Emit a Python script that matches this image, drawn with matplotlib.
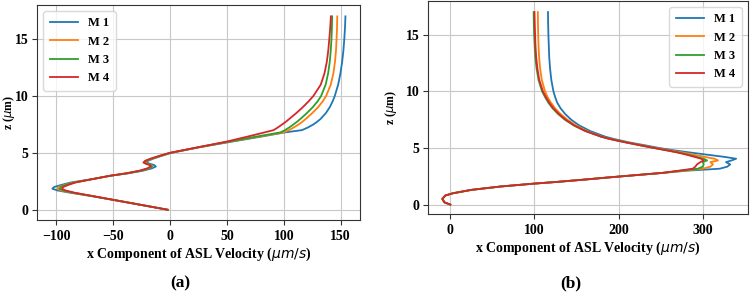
import matplotlib
matplotlib.use("Agg")
import matplotlib.pyplot as plt

# ---------------- data: panel (a) ----------------
z_a = [0, 0.4, 0.8, 1.2, 1.5, 1.7, 1.85, 2.0, 2.2, 2.4, 2.7, 3.0, 3.2, 3.43,
       3.64, 3.8, 3.93, 4.05, 4.15, 4.3, 4.5, 4.75, 5.0, 5.5, 6.0, 6.5, 6.8,
       7.0, 7.25, 7.5, 7.75, 8.0, 8.5, 9, 9.5, 10, 11, 12, 13, 14, 15, 16, 17]
a_m1 = [-2, -24, -46, -69, -88, -99, -103.5, -102, -95, -87, -68, -52, -37, -24,
        -16, -12.5, -14, -18, -20.5, -19.5, -14.6, -7, 1, 26, 55, 84, 101,
        116, 121.5, 126, 129.5, 132.5, 137, 140.3, 142.8, 144.8, 147.8, 149.8,
        151.3, 152.4, 153.2, 153.8, 154.2]
a_m2 = [-2, -24, -46, -68, -86, -96, -99, -98, -92, -85, -68, -52, -38, -26,
        -18.5, -15.5, -16.5, -20, -22, -21, -15.5, -8, 0.5, 25.5, 53, 82, 100,
        104.5, 109, 113, 116.5, 119.5, 125, 130, 134, 137.2, 141.3, 143.6,
        145, 145.9, 146.4, 146.8, 147]
a_m3 = [-2, -24, -46, -68, -85, -94, -97, -96, -91, -84, -68, -52, -38, -26,
        -19, -16, -17, -20.5, -22.5, -21.5, -16, -8.5, 0, 25, 52, 80, 97,
        101, 105, 108.5, 111.8, 114.8, 120.3, 125.3, 129.5, 132.8, 136.8, 139,
        140.4, 141.3, 141.9, 142.3, 142.5]
a_m4 = [-2, -24, -46, -68, -84, -92, -95, -94, -89, -83, -68, -52, -39, -27,
        -20, -17, -18, -21.5, -23.5, -22, -17, -9, -0.5, 25, 50, 71, 83,
        91, 95, 98.5, 102, 105, 111, 116.5, 121.5, 126, 132.5, 135.8,
        137.8, 139.1, 140, 140.8, 141.4]

# ---------------- data: panel (b) ----------------
z_b = [0, 0.2, 0.5, 0.8, 1.0, 1.3, 1.6, 1.85, 2.0, 2.2, 2.4, 2.6, 2.8, 3.0,
       3.17, 3.35, 3.55, 3.75, 3.9, 4.05, 4.2, 4.4, 4.6, 4.8, 5.0, 5.2, 5.5,
       5.8, 6.0, 6.5, 7.0, 7.5, 8, 8.5, 9, 9.5, 10, 11, 12, 13, 14, 15, 16, 17]
b_m1 = [0, -7, -9.5, -6, 3, 25, 60, 99, 126, 158, 188, 220, 252, 282,
        320, 329, 332.5, 327.5, 334, 339.5, 327, 306, 285, 265, 248, 234, 212,
        194, 184, 166, 153, 143.5, 136.5, 131, 127, 124.5, 122.5, 120, 118.5,
        117.5, 117, 116.5, 116.2, 116]
b_m2 = [0, -7, -9.5, -6, 3, 25, 60, 99, 126, 158, 188, 220, 252, 278,
        300, 309, 312, 309, 318, 314, 303, 290, 276, 260, 244, 230, 209,
        190, 180, 162, 149, 139, 131, 124.5, 119.5, 115.5, 112.5, 108.7, 106.7,
        105.5, 104.8, 104.4, 104.1, 104]
b_m3 = [0, -7, -9.5, -6, 3, 25, 60, 99, 126, 158, 188, 220, 252, 274,
        294, 300, 301, 300, 305, 301, 293, 283, 271, 257, 242, 228, 208,
        189, 179, 160, 146.5, 136, 128, 121.5, 116.5, 112.5, 109, 104.8, 102.5,
        101, 100.2, 99.6, 99.2, 99]
b_m4 = [0, -7, -9.5, -6, 3, 25, 60, 99, 126, 158, 188, 220, 252, 272,
        288, 291, 293, 297, 301, 298, 291, 281, 270, 256, 242, 228, 208,
        189, 179, 160.5, 147, 137, 129, 122.5, 117.5, 113.5, 110, 105.7, 103.5,
        102, 101.2, 100.7, 100.3, 100]

labels = ["M 1", "M 2", "M 3", "M 4"]
colors = ["#1f77b4", "#ff7f0e", "#2ca02c", "#d62728"]
a_ticks = [-100, -50, 0, 50, 100, 150]
b_ticks = [0, 100, 200, 300]
z_ticks = [0, 5, 10, 15]

plt.rcParams["font.family"] = ["Liberation Serif", "DejaVu Serif"]
plt.rcParams["mathtext.fontset"] = "dejavusans"
plt.rcParams["axes.edgecolor"] = "#333333"

fig = plt.figure(figsize=(7.51, 2.93), dpi=100)
ax1 = fig.add_axes([37 / 751, 1 - 220 / 293, (360 - 37) / 751, 215 / 293])
ax2 = fig.add_axes([428 / 751, 1 - 214 / 293, (748 - 428) / 751, 213 / 293])

for ax, z, series, ticks, loc, ylx in [
    (ax1, z_a, [a_m1, a_m2, a_m3, a_m4], a_ticks, "upper left", -0.063),
    (ax2, z_b, [b_m1, b_m2, b_m3, b_m4], b_ticks, "upper right", -0.09),
]:
    for xs, lab, c in zip(series, labels, colors):
        ax.plot(xs, z, color=c, lw=1.3, label=lab)
    ax.set_xticks(ticks)
    ax.set_yticks(z_ticks)
    ax.grid(True, color="#c8c8c8", lw=0.8)
    ax.set_axisbelow(True)
    ax.tick_params(labelsize=10, length=3.5, color="#333333")
    ax.tick_params(axis="y", pad=2.5)
    for t in ax.get_xticklabels() + ax.get_yticklabels():
        t.set_fontweight("bold")
    ax.set_xlabel(r"x Component of ASL Velocity ($\mu m/s$)", fontsize=10,
                  fontweight="bold", labelpad=2)
    ax.set_ylabel(r"z ($\mu$m)", fontsize=8.5, fontweight="bold")
    ax.yaxis.set_label_coords(ylx, 0.5)
    leg = ax.legend(loc=loc, prop={"size": 9, "weight": "bold"},
                    handlelength=2.3, labelspacing=0.5, borderpad=0.5)
    leg.get_frame().set_edgecolor("#d0d0d0")

ax1.set_xlim(-117, 167)
ax1.set_ylim(-0.9, 18.0)
ax2.set_xlim(-26.5, 353.6)
ax2.set_ylim(-0.83, 17.98)

fig.text(180 / 751, 1 - 283 / 293, "(a)", ha="center", va="center",
         fontsize=12.5, fontweight="bold")
fig.text(571 / 751, 1 - 283 / 293, "(b)", ha="center", va="center",
         fontsize=12.5, fontweight="bold")

fig.savefig("out.png", dpi=100)
